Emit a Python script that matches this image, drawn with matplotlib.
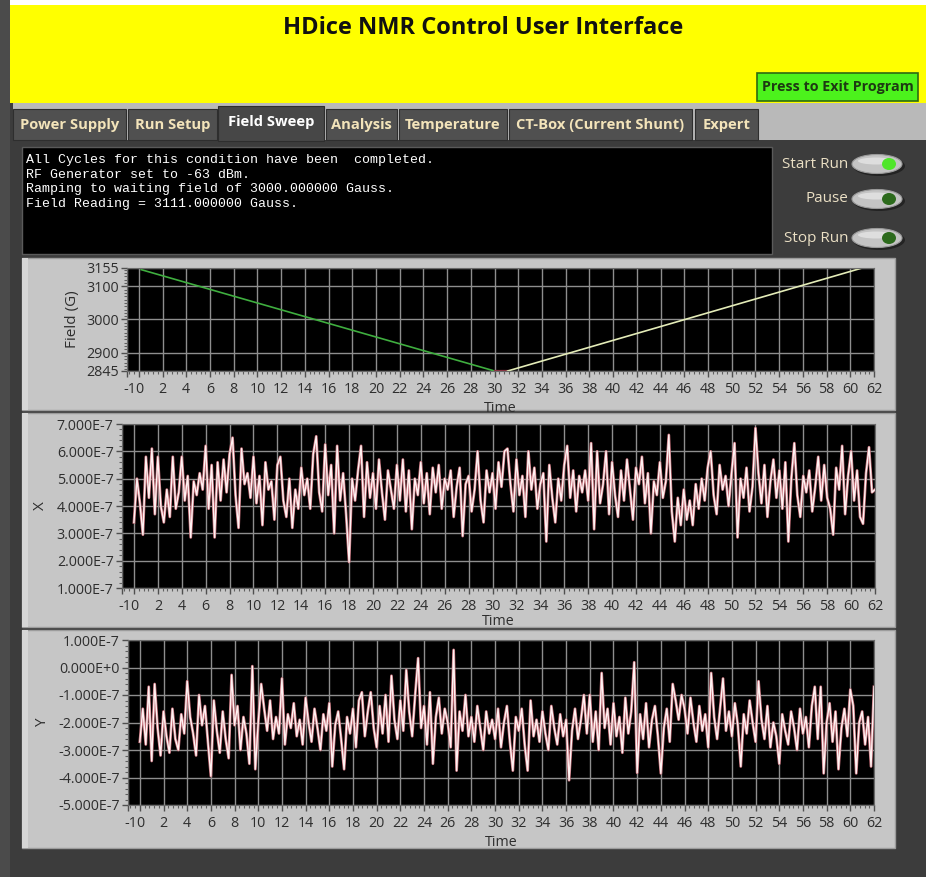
import numpy as np
import matplotlib
matplotlib.use("Agg")
import matplotlib.pyplot as plt
import matplotlib.transforms as mtransforms
from matplotlib.patches import Rectangle, Ellipse
from matplotlib.ticker import MultipleLocator, FuncFormatter

plt.rcParams['font.family'] = ['Open Sans', 'DejaVu Sans']

W, H = 926, 877

# ---- data ----
title = "HDice NMR Control User Interface"
tabs = ["Power Supply", "Run Setup", "Field Sweep", "Analysis", "Temperature",
        "CT-Box (Current Shunt)", "Expert"]
status_lines = ["All Cycles for this condition have been  completed.",
                "RF Generator set to -63 dBm.",
                "Ramping to waiting field of 3000.000000 Gauss.",
                "Field Reading = 3111.000000 Gauss."]
run_buttons = ["Start Run", "Pause", "Stop Run"]

# field sweep: (time, gauss) pieces
field_down_t = [0.2, 30.0]
field_down_g = [3150, 2845]
field_hold_t = [30.0, 31.1]
field_hold_g = [2845, 2845]
field_up_t = [31.1, 61.0]
field_up_g = [2845, 3155]
field_end_t = [61.0, 62.0]
field_end_g = [3155, 3155]
field_ticks = [2845, 2900, 3000, 3100, 3155]

# lock-in X and Y (units of 1e-7), sampled evenly from t=0 to t=62
x_vals = [
    3.4, 5.0, 4.1, 2.95, 5.8, 4.3, 6.1, 3.7,
    5.8, 4.0, 3.4, 4.6, 3.6, 5.8, 3.9, 4.5,
    5.8, 4.2, 5.1, 2.85, 4.9, 4.4, 5.2, 4.6,
    6.2, 3.9, 5.5, 2.85, 5.6, 4.2, 5.7, 4.5,
    5.9, 6.5, 4.4, 3.2, 6.1, 4.8, 5.2, 4.3,
    5.8, 4.1, 5.1, 3.3, 5.6, 4.6, 4.9, 3.5,
    5.5, 5.8, 4.2, 3.6, 5.0, 3.2, 4.6, 3.9,
    5.4, 4.4, 5.0, 3.9, 5.9, 6.55, 4.5, 3.8,
    6.25, 4.4, 5.5, 3.0, 6.2, 4.2, 5.2, 3.7,
    1.95, 5.0, 4.2, 5.3, 6.2, 3.6, 5.6, 4.3,
    5.2, 3.9, 5.7, 4.5, 3.5, 5.3, 4.6, 3.9,
    5.5, 4.2, 5.7, 3.8, 5.3, 3.15, 5.0, 4.4,
    5.6, 4.1, 5.2, 3.7, 5.4, 4.5, 5.5, 3.9,
    5.0, 4.6, 5.3, 3.6, 4.7, 5.4, 2.9, 4.8,
    5.1, 3.8, 4.6, 6.0, 4.2, 3.4, 5.3, 4.5,
    5.2, 3.9, 5.6, 4.7, 6.0, 6.1, 4.8, 3.8,
    5.7, 4.4, 5.1, 3.6, 6.0, 4.6, 5.4, 3.9,
    4.8, 5.2, 2.7, 5.5, 4.3, 3.4, 5.0, 4.2,
    5.5, 6.2, 4.3, 5.3, 3.8, 5.1, 4.5, 5.3,
    4.2, 6.3, 3.15, 6.0, 4.1, 4.8, 6.0, 3.7,
    5.6, 4.4, 3.6, 5.3, 4.2, 5.7, 4.6, 3.5,
    5.4, 4.8, 5.8, 4.1, 5.2, 3.0, 4.9, 4.4,
    5.6, 4.3, 4.9, 6.6, 3.8, 2.7, 4.3, 3.3,
    4.6, 3.5, 4.2, 3.3, 4.8, 3.9, 5.0, 4.2,
    5.4, 6.0, 4.4, 3.7, 5.5, 4.6, 5.1, 4.0,
    5.2, 6.3, 2.85, 5.0, 4.3, 5.4, 3.8, 4.7,
    6.85, 5.2, 4.1, 5.5, 3.6, 4.9, 5.7, 4.3,
    5.3, 3.9, 5.6, 2.7, 5.0, 6.3, 4.4, 3.6,
    5.1, 4.5, 5.3, 3.8, 4.7, 5.8, 4.2, 5.5,
    4.3, 3.9, 2.95, 5.4, 4.6, 6.2, 3.7, 5.1,
    6.0, 4.2, 5.3, 3.6, 3.35, 5.2, 6.15, 4.5,
    4.6]

y_vals = [
    -2.7, -1.5, -2.8, -0.7, -3.4, -0.6, -2.2, -3.2,
    -1.6, -2.5, -3.1, -1.5, -2.6, -3.0, -1.7, -2.4,
    -0.5, -1.8, -2.4, -3.2, -1.0, -2.1, -1.4, -2.7,
    -3.95, -1.2, -2.3, -3.1, -1.6, -2.6, -3.3, -0.27,
    -2.1, -1.4, -3.0, -1.8, -2.4, -3.5, 0.05, -3.7,
    -2.0, -0.6, -1.5, -2.3, -1.2, -2.6, -1.8, -2.4,
    -0.4, -2.8, -1.7, -2.2, -1.3, -2.5, -1.9, -2.8,
    -1.1, -2.0, -2.7, -1.5, -2.2, -3.0, -1.7, -2.3,
    -1.3, -3.6, -2.1, -1.6, -2.6, -3.7, -1.8, -2.4,
    -1.5, -2.9, -1.2, -0.9, -2.5, -1.6, -0.9, -2.2,
    -2.9, -1.4, -2.4, -1.0, -2.7, -0.3, -1.9, -2.6,
    -1.2, -2.3, -0.09, -1.6, -2.5, -1.0, 0.34, -2.2,
    -1.4, -2.8, -0.9, -3.5, -1.8, -1.1, -2.4, -1.5,
    -2.0, -2.9, 0.64, -3.75, -1.6, -2.3, -1.0, -2.5,
    -1.8, -2.7, -1.4, -2.2, -3.0, -1.6, -2.4, -1.9,
    -2.6, -1.5, -2.9, -2.0, -1.4, -2.7, -3.75, -1.8,
    -2.3, -1.5, -2.8, -3.75, -1.2, -2.5, -1.9, -2.7,
    -1.6, -2.4, -3.0, -1.4, -2.2, -2.8, -1.7, -2.5,
    -1.9, -4.1, -2.3, -1.5, -2.6, -1.9, -1.0, -2.4,
    -1.0, -2.7, -1.6, -3.0, -0.2, -2.2, -1.5, -2.8,
    -1.3, -2.5, -1.8, -3.1, -1.1, -2.4, -1.6, 0.19,
    -3.83, -1.7, -2.6, -1.3, -2.9, -1.9, -1.4, -2.5,
    -3.85, -2.2, -1.5, -2.7, -0.6, -1.2, -1.9, -1.0,
    -1.5, -2.4, -1.1, -2.0, -2.7, -1.4, -2.3, -1.7,
    -2.9, -0.2, -1.8, -2.6, -1.5, -0.4, -2.3, -1.6,
    -2.5, -1.3, -2.1, -3.6, -1.7, -2.4, -1.2, -2.0,
    -2.7, -0.5, -1.9, -2.6, -1.4, -2.9, -2.0, -2.5,
    -3.5, -1.7, -2.3, -2.8, -1.6, -2.2, -3.0, -1.5,
    -2.4, -1.8, -2.9, -1.4, -0.7, -2.6, -0.7, -3.85,
    -2.0, -1.3, -2.7, -1.6, -3.7, -2.2, -1.5, -2.5,
    -0.8, -1.4, -3.85, -2.0, -1.6, -2.8, -1.8, -3.6,
    -0.7]

t_sig = np.linspace(0, 62, len(x_vals))
x_sig = np.array(x_vals) * 1e-7
y_sig = np.array(y_vals) * 1e-7

time_ticks = [-1] + list(range(0, 63, 2))


def rect(x0, y0, x1, y1):
    return [x0 / W, 1 - y1 / H, (x1 - x0) / W, (y1 - y0) / H]


fig = plt.figure(figsize=(W / 100, H / 100), dpi=100)
fig.patch.set_facecolor("#3c3c3c")

bg = fig.add_axes([0, 0, 1, 1])
bg.set_xlim(0, W)
bg.set_ylim(H, 0)
bg.axis("off")

def box(x0, y0, x1, y1, fc, ec="none", lw=0, z=1):
    bg.add_patch(Rectangle((x0, y0), x1 - x0, y1 - y0, facecolor=fc,
                           edgecolor=ec, linewidth=lw, zorder=z))

# window frame and header
box(0, 0, W, H, "#3c3c3c", z=0)
box(0, 0, 10, H, "#4b4b4b")
box(10, 0, W, 5, "#ffffff")
box(10, 5, W, 103, "#ffff00")
bg.text(483, 28, title, ha="center", va="center", fontsize=17,
        fontweight="bold", color="#111111")
box(757, 73, 918, 101, "#4cf21c", ec="#2d6b12", lw=1.2, z=2)
bg.text(837.5, 87.5, "Press to Exit Program", ha="center", va="center",
        fontsize=10.3, fontweight="bold", color="#1d3a12", zorder=3)

# tab strip
box(10, 103, W, 140, "#b9b9b9")
box(10, 103, 13, 140, "#3c3c3c")
tab_x = [(13, 126), (128, 217), (218, 324), (326, 397), (399, 507),
         (509, 692), (695, 758)]
for name, (a, b) in zip(tabs, tab_x):
    sel = name == "Field Sweep"
    top = 106 if sel else 109
    box(a, top, b, 141 if sel else 140, "#474747" if sel else "#505050",
        ec="#2e2e2e", lw=0.8, z=2)
    bg.text((a + b) / 2, 122 if sel else 125, name, ha="center", va="center",
            fontsize=10.6, fontweight="bold",
            color="#ffffff" if sel else "#f3e4ba", zorder=3)

# tab page
box(10, 140, W, H, "#3c3c3c", z=1)
box(22, 147, 772, 254, "#000000", ec="#5a5a5a", lw=1, z=2)
for i, line in enumerate(status_lines):
    bg.text(26, 160 + i * 14.6, line, ha="left", va="center",
            fontsize=9.5, family="Liberation Mono", color="#ffffff", zorder=3)

for i, lab in enumerate(run_buttons):
    yc = [164, 199, 238][i]
    bg.text(848, yc, lab, ha="right", va="center", fontsize=11,
            color="#eadfc4", zorder=3)
    bg.add_patch(Ellipse((879, yc + 2), 52, 20, facecolor="#232323",
                         edgecolor="none", zorder=2))
    bg.add_patch(Ellipse((877, yc), 50, 19, facecolor="#c4c4c4",
                         edgecolor="#9a9a9a", lw=0.8, zorder=3))
    bg.add_patch(Ellipse((876, yc - 3), 36, 7, facecolor="#dedede",
                         edgecolor="none", zorder=3))
    bg.add_patch(Ellipse((889, yc), 14, 12,
                         facecolor="#4fe62a" if i == 0 else "#2c6a1c",
                         edgecolor="none", zorder=4))

# chart frames
for (y0, y1) in [(258, 410), (413, 627), (630, 848)]:
    box(22, y0, 895, y1, "#c6c6c6", ec="#9c9c9c", lw=1, z=2)
    box(22, y0, 28, y1, "#d6d6d6", z=3)


def style(ax, ylo, yhi, yticks, yminor, fmt=None, xpad=5):
    ax.set_facecolor("#000000")
    ax.set_xlim(-1, 62)
    ax.set_ylim(ylo, yhi)
    ax.set_xticks(time_ticks)
    ax.set_xticklabels([str(v) for v in time_ticks])
    ax.xaxis.set_minor_locator(MultipleLocator(0.4))
    ax.set_yticks(yticks)
    ax.yaxis.set_minor_locator(MultipleLocator(yminor))
    if fmt is not None:
        ax.yaxis.set_major_formatter(FuncFormatter(fmt))
    ax.grid(True, which="major", color="#8e8e8e", linewidth=1.0)
    ax.tick_params(which="major", length=4, width=1, color="#505050",
                   labelsize=10.3, labelcolor="#2e2e2e", pad=2)
    ax.tick_params(axis="x", which="major", pad=4)
    ax.tick_params(which="minor", length=2.5, width=0.8, color="#606060")
    for s in ax.spines.values():
        s.set_color("#6a6a6a")
    ax.set_xlabel("Time", fontsize=10.3, color="#2e2e2e", labelpad=xpad)
    # the "-1" and "0" labels sit tight together, as on the screen
    first = ax.get_xticklabels()[0]
    first.set_transform(first.get_transform() +
                        mtransforms.ScaledTranslation(3 / 100, 0, fig.dpi_scale_trans))


def sci(v, pos):
    m = round(v / 1e-7, 3)
    if abs(m) < 1e-9:
        return "0.000E+0"
    return f"{m:.3f}E-7"


# field chart
ax1 = fig.add_axes(rect(127, 268, 874, 371))
ax1.plot(field_down_t, field_down_g, color="#3fae3f", lw=1.2)
ax1.plot(field_hold_t, field_hold_g, color="#8a3040", lw=1.6)
ax1.plot(field_up_t, field_up_g, color="#e4ecb8", lw=1.2)
ax1.plot(field_end_t, field_end_g, color="#b0b0b0", lw=1.2)
style(ax1, 2845, 3155, field_ticks, 10, xpad=3)
ax1.set_ylabel("Field (G)", fontsize=11, color="#2e2e2e", labelpad=4)

# X chart
ax2 = fig.add_axes(rect(122, 424, 875, 588))
ax2.plot(t_sig, x_sig, color="#c4707a", lw=2.0)
ax2.plot(t_sig, x_sig, color="#fff2f2", lw=1.0)
style(ax2, 1e-7, 7e-7, np.arange(1, 8) * 1e-7, 0.2e-7, sci, xpad=0)
ax2.set_ylabel("X", fontsize=11, color="#2e2e2e", labelpad=6)

# Y chart
ax3 = fig.add_axes(rect(128, 640, 874, 805))
ax3.plot(t_sig, y_sig, color="#c4707a", lw=2.0)
ax3.plot(t_sig, y_sig, color="#fff2f2", lw=1.0)
style(ax3, -5e-7, 1e-7, np.arange(-5, 2) * 1e-7, 0.2e-7, sci, xpad=3)
ax3.set_ylabel("Y", fontsize=11, color="#2e2e2e", labelpad=6)

fig.savefig("out.png", dpi=100, facecolor=fig.get_facecolor())
